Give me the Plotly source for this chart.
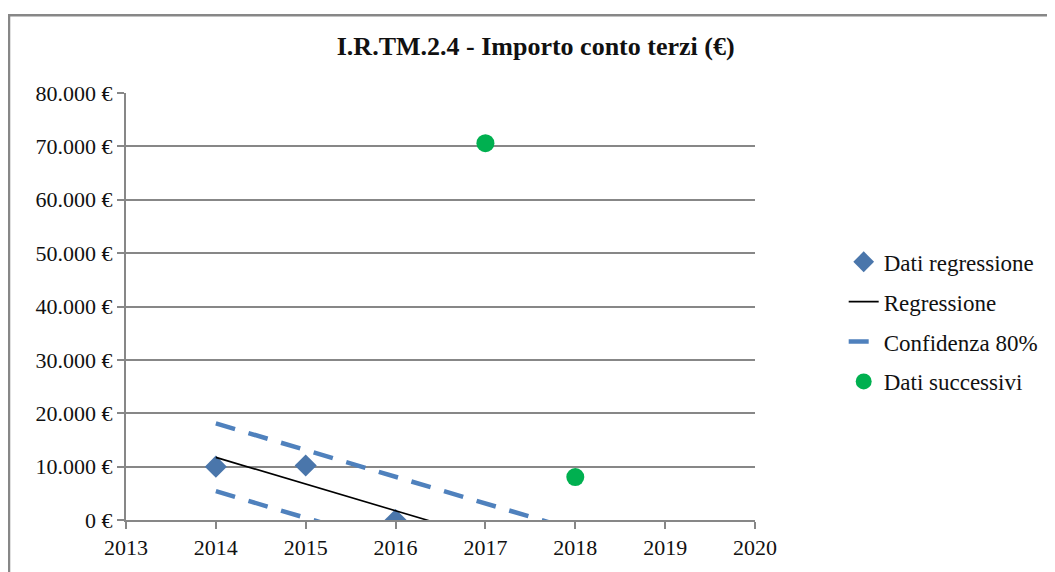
import plotly.graph_objects as go

# data
reg_years = [2014, 2015, 2016]
reg_values = [10000, 10200, 0]

fit_years = [2014, 2015, 2016, 2017, 2018]
fit_values = [11733, 6733, 1733, -3267, -8267]
conf_hi = [18100, 13100, 8100, 3100, -1900]
conf_lo = [5400, 400, -4600, -9600, -14600]

next_years = [2017, 2018]
next_values = [70600, 8050]

y_ticks = [0, 10000, 20000, 30000, 40000, 50000, 60000, 70000, 80000]
y_labels = ['0 €', '10.000 €', '20.000 €', '30.000 €', '40.000 €',
            '50.000 €', '60.000 €', '70.000 €', '80.000 €']
x_ticks = [2013, 2014, 2015, 2016, 2017, 2018, 2019, 2020]

font = 'Liberation Serif, Times New Roman, serif'
grey = '#878787'
blue = '#4a76ab'

fig = go.Figure()
fig.add_trace(go.Scatter(x=reg_years, y=reg_values, mode='markers', name='Dati regressione',
                         legendgroup='a',
                         marker=dict(symbol='diamond', size=17, color=blue)))
fig.add_trace(go.Scatter(x=fit_years, y=fit_values, mode='lines', name='Regressione',
                         legendgroup='b', line=dict(color='black', width=1.6)))
fig.add_trace(go.Scatter(x=fit_years, y=conf_hi, mode='lines', name='Confidenza 80%',
                         legendgroup='c',
                         line=dict(color='#4f81bd', width=4.5, dash='20px,14px')))
fig.add_trace(go.Scatter(x=fit_years, y=conf_lo, mode='lines', name='Confidenza 80%',
                         legendgroup='c', showlegend=False,
                         line=dict(color='#4f81bd', width=4.5, dash='20px,14px')))
fig.add_trace(go.Scatter(x=next_years, y=next_values, mode='markers', name='Dati successivi',
                         legendgroup='d',
                         marker=dict(symbol='circle', size=18, color='#00b050')))

# outer chart border
fig.add_shape(type='rect', xref='paper', yref='paper', x0=-0.186, x1=1.7, y0=-0.5, y1=1.182,
              line=dict(color=grey, width=2.5), fillcolor='rgba(0,0,0,0)', layer='below')

# page body has an 8px margin, so the figure is a little smaller than the window
fig.update_layout(
    width=1047, height=564,
    margin=dict(l=118, r=300, t=85, b=50),
    paper_bgcolor='white', plot_bgcolor='white',
    font=dict(family=font, size=22, color='#111'),
    title=dict(text='<b>I.R.TM.2.4 - Importo conto terzi (€)</b>', x=0.504, xanchor='center',
               y=0.932, yanchor='middle', font=dict(family=font, size=26, color='#111')),
    legend=dict(x=1.141, y=0.655, xanchor='left', yanchor='top', tracegroupgap=7,
                font=dict(family=font, size=23, color='#111'), bgcolor='rgba(0,0,0,0)'),
    showlegend=True,
)
fig.update_xaxes(range=[2013, 2020], tickvals=x_ticks, ticks='outside', ticklen=7,
                 tickcolor=grey, tickwidth=2, showline=True, linecolor=grey, linewidth=2,
                 showgrid=False, zeroline=False, fixedrange=True)
fig.update_yaxes(range=[0, 80000], tickvals=y_ticks, ticktext=y_labels, ticks='outside',
                 ticklen=7, tickcolor=grey, tickwidth=2, showline=True, linecolor=grey,
                 linewidth=2, showgrid=True, gridcolor=grey, gridwidth=2, zeroline=False,
                 fixedrange=True)

fig.write_html('out.html')
